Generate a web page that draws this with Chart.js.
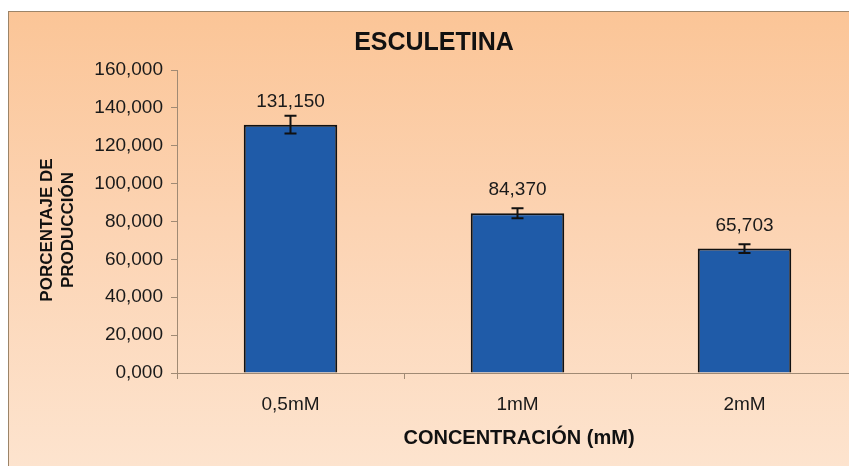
<!DOCTYPE html>
<html>
<head>
<meta charset="utf-8">
<script src="https://cdn.jsdelivr.net/npm/chart.js@4"></script>
<style>
  html, body { margin: 0; padding: 0; background: #fff; overflow: hidden; width: 849px; height: 466px; }
  #frame {
    position: absolute; left: 8px; top: 11px; width: 870px; height: 460px;
    border-top: 1px solid #9c8468; border-left: 1px solid #9c8468;
    background: linear-gradient(to bottom, #fbc597 0%, #fcd3b2 45%, #fde4cf 100%);
  }
  #wrap { position: relative; width: 860px; height: 454px; }
</style>
</head>
<body>
<div id="frame"><div id="wrap"><canvas id="chart"></canvas></div></div>
<script>
// Data
const categories = ["0,5mM", "1mM", "2mM"];
const values = [131.150, 84.370, 65.703];
const errors = [4.7, 2.6, 2.3];
const yTicks = [0, 20, 40, 60, 80, 100, 120, 140, 160];

const fmt = v => v.toFixed(3).replace(".", ",");
const FONT = "'Liberation Sans', Arial, sans-serif";

// error bars + value labels + titles
const extras = {
  id: "extras",
  afterDatasetsDraw(chart) {
    const ctx = chart.ctx;
    const y = chart.scales.y;
    const meta = chart.getDatasetMeta(0);
    ctx.save();
    meta.data.forEach((bar, i) => {
      const x = bar.x;
      const top = y.getPixelForValue(values[i] + errors[i]);
      const bot = y.getPixelForValue(values[i] - errors[i]);
      ctx.strokeStyle = "#111";
      ctx.lineWidth = 2;
      ctx.beginPath();
      ctx.moveTo(x, top); ctx.lineTo(x, bot);
      ctx.moveTo(x - 6, top); ctx.lineTo(x + 6, top);
      ctx.moveTo(x - 6, bot); ctx.lineTo(x + 6, bot);
      ctx.stroke();
      ctx.fillStyle = "#1a1a1a";
      ctx.font = "19px " + FONT;
      ctx.textAlign = "center";
      ctx.textBaseline = "middle";
      ctx.fillText(fmt(values[i]), x, bar.y - 23);
    });
    ctx.fillStyle = "#111";
    ctx.textAlign = "center";
    ctx.textBaseline = "middle";
    ctx.font = "bold 25px " + FONT;
    ctx.fillText("ESCULETINA", 425, 31);
    ctx.font = "bold 20px " + FONT;
    ctx.fillText("CONCENTRACIÓN (mM)", 510, 426);
    ctx.font = "bold 17px " + FONT;
    ctx.translate(0, 218);
    ctx.rotate(-Math.PI / 2);
    ctx.fillText("PORCENTAJE DE", 0, 38);
    ctx.fillText("PRODUCCIÓN", 0, 59);
    ctx.restore();
  }
};

new Chart(document.getElementById("chart"), {
  type: "bar",
  data: {
    labels: categories,
    datasets: [{
      data: values,
      backgroundColor: "#1f5ba8",
      borderColor: "#111",
      borderWidth: 2,
      categoryPercentage: 1,
      barPercentage: 0.412
    }]
  },
  options: {
    responsive: true,
    maintainAspectRatio: false,
    animation: false,
    layout: { padding: { left: 0, right: 11, top: 58, bottom: 53 } },
    plugins: { legend: { display: false }, tooltip: { enabled: false } },
    scales: {
      x: {
        offset: true,
        grid: { offset: true, drawOnChartArea: false, drawTicks: true, tickLength: 6, color: "#a08a74" },
        border: { color: "#a08a74", width: 1 },
        ticks: { color: "#1a1a1a", font: { family: FONT, size: 19 }, padding: 14 },
        afterFit: s => { s.height = 40; }
      },
      y: {
        min: 0, max: 160,
        afterBuildTicks: s => { s.ticks = yTicks.map(v => ({ value: v })); },
        grid: { drawOnChartArea: false, drawTicks: true, tickLength: 6, color: "#a08a74" },
        border: { color: "#a08a74", width: 1 },
        ticks: { color: "#1a1a1a", font: { family: FONT, size: 19 }, padding: 8, callback: v => fmt(v) },
        afterFit: s => { s.width = 168; }
      }
    }
  },
  plugins: [extras]
});
</script>
</body>
</html>
